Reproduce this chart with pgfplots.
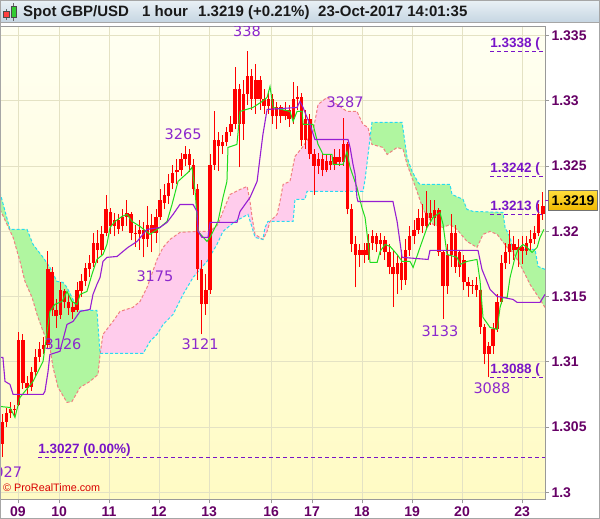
\documentclass[border=0pt]{standalone}
\usepackage{fontspec}
\setmainfont{Liberation Sans}
\newfontfamily\djv{DejaVu Sans}
\usepackage{pgfplots}
\usepackage{pgfplotstable}
\pgfplotsset{compat=1.18}

\definecolor{candle}{RGB}{255,0,0}
\definecolor{bgtop}{RGB}{255,255,242}
\definecolor{bgbot}{RGB}{255,251,196}
\definecolor{gridc}{RGB}{228,226,196}
\definecolor{cloudgreen}{RGB}{176,246,160}
\definecolor{cloudpink}{RGB}{255,204,236}
\definecolor{spanAc}{RGB}{240,128,128}
\definecolor{spanBc}{RGB}{40,220,240}
\definecolor{tenkan}{RGB}{30,220,30}
\definecolor{kijun}{RGB}{150,30,210}
\definecolor{ticklab}{RGB}{102,0,102}
\definecolor{annot}{RGB}{140,40,205}
\definecolor{levelc}{RGB}{120,20,200}
\definecolor{titletop}{RGB}{234,241,246}
\definecolor{titlebot}{RGB}{198,214,226}
\definecolor{boxtop}{RGB}{255,222,60}
\definecolor{boxbot}{RGB}{240,184,0}

% two-hour candles: k -> hour 2k+1
\pgfplotstableread{
k o h l c
0 1.3037 1.3060 1.3027 1.3054
1 1.3054 1.3065 1.3050 1.3061
2 1.3061 1.3069 1.3057 1.3064
3 1.3064 1.3067 1.3058 1.3063
4 1.3067 1.3123 1.3066 1.3117
5 1.3117 1.3121 1.3079 1.3084
6 1.3084 1.3089 1.3075 1.3080
7 1.3081 1.3096 1.3078 1.3092
8 1.3092 1.3110 1.3089 1.3104
9 1.3104 1.3115 1.3100 1.3110
10 1.3110 1.3119 1.3106 1.3113
11 1.3113 1.3185 1.3110 1.3171
12 1.3169 1.3173 1.3135 1.3140
13 1.3140 1.3148 1.3126 1.3135
14 1.3136 1.3161 1.3133 1.3155
15 1.3154 1.3156 1.3141 1.3146
16 1.3146 1.3152 1.3136 1.3141
17 1.3142 1.3146 1.3133 1.3138
18 1.3140 1.3161 1.3138 1.3155
19 1.3154 1.3167 1.3150 1.3162
20 1.3162 1.3176 1.3158 1.3172
21 1.3171 1.3182 1.3165 1.3176
22 1.3176 1.3199 1.3173 1.3191
23 1.3191 1.3201 1.3176 1.3186
24 1.3186 1.3204 1.3182 1.3198
25 1.3199 1.3228 1.3196 1.3217
26 1.3215 1.3218 1.3198 1.3204
27 1.3204 1.3214 1.3196 1.3209
28 1.3209 1.3213 1.3198 1.3202
29 1.3204 1.3217 1.3200 1.3211
30 1.3211 1.3224 1.3204 1.3214
31 1.3213 1.3215 1.3193 1.3199
32 1.3199 1.3205 1.3188 1.3198
33 1.3198 1.3209 1.3186 1.3201
34 1.3201 1.3207 1.3180 1.3194
35 1.3194 1.3219 1.3188 1.3205
36 1.3205 1.3213 1.3184 1.3199
37 1.3199 1.3217 1.3191 1.3211
38 1.3211 1.3232 1.3209 1.3224
39 1.3222 1.3236 1.3217 1.3228
40 1.3227 1.3244 1.3221 1.3237
41 1.3237 1.3251 1.3232 1.3245
42 1.3245 1.3255 1.3236 1.3247
43 1.3247 1.3260 1.3242 1.3255
44 1.3255 1.3265 1.3250 1.3259
45 1.3259 1.3263 1.3245 1.3251
46 1.3251 1.3255 1.3228 1.3232
47 1.3232 1.3236 1.3163 1.3171
48 1.3171 1.3178 1.3121 1.3144
49 1.3144 1.3167 1.3136 1.3155
50 1.3155 1.3259 1.3152 1.3251
51 1.3251 1.3292 1.3247 1.3270
52 1.3270 1.3276 1.3246 1.3265
53 1.3265 1.3274 1.3259 1.3268
54 1.3268 1.3280 1.3265 1.3276
55 1.3276 1.3288 1.3273 1.3282
56 1.3282 1.3326 1.3278 1.3309
57 1.3309 1.3313 1.3249 1.3282
58 1.3282 1.3316 1.3270 1.3305
59 1.3305 1.3338 1.3297 1.3319
60 1.3319 1.3324 1.3293 1.3301
61 1.3301 1.3328 1.3290 1.3316
62 1.3316 1.3319 1.3293 1.3301
63 1.3301 1.3309 1.3290 1.3296
64 1.3296 1.3306 1.3290 1.3301
65 1.3301 1.3305 1.3282 1.3288
66 1.3288 1.3299 1.3278 1.3295
67 1.3295 1.3297 1.3283 1.3288
68 1.3288 1.3299 1.3285 1.3293
69 1.3293 1.3297 1.3280 1.3286
70 1.3286 1.3314 1.3282 1.3301
71 1.3301 1.3311 1.3293 1.3303
72 1.3303 1.3306 1.3265 1.3270
73 1.3270 1.3293 1.3263 1.3286
74 1.3286 1.3290 1.3255 1.3259
75 1.3259 1.3263 1.3228 1.3250
76 1.3250 1.3260 1.3244 1.3255
77 1.3255 1.3259 1.3242 1.3247
78 1.3247 1.3259 1.3245 1.3254
79 1.3254 1.3259 1.3247 1.3251
80 1.3251 1.3263 1.3247 1.3257
81 1.3257 1.3263 1.3250 1.3253
82 1.3253 1.3287 1.3250 1.3267
83 1.3267 1.3268 1.3213 1.3217
84 1.3217 1.3221 1.3184 1.3190
85 1.3190 1.3196 1.3157 1.3182
86 1.3182 1.3190 1.3173 1.3186
87 1.3186 1.3191 1.3176 1.3182
88 1.3182 1.3198 1.3178 1.3191
89 1.3191 1.3201 1.3186 1.3196
90 1.3196 1.3199 1.3184 1.3190
91 1.3190 1.3199 1.3182 1.3193
92 1.3193 1.3196 1.3178 1.3184
93 1.3184 1.3190 1.3167 1.3173
94 1.3173 1.3186 1.3142 1.3167
95 1.3167 1.3182 1.3152 1.3176
96 1.3176 1.3186 1.3155 1.3163
97 1.3163 1.3194 1.3159 1.3186
98 1.3186 1.3204 1.3181 1.3196
99 1.3196 1.3209 1.3190 1.3201
100 1.3201 1.3217 1.3198 1.3210
101 1.3210 1.3221 1.3199 1.3204
102 1.3204 1.3231 1.3201 1.3214
103 1.3214 1.3224 1.3205 1.3210
104 1.3210 1.3224 1.3204 1.3216
105 1.3216 1.3218 1.3181 1.3184
106 1.3184 1.3186 1.3133 1.3158
107 1.3158 1.3190 1.3152 1.3182
108 1.3182 1.3213 1.3173 1.3199
109 1.3199 1.3205 1.3168 1.3173
110 1.3173 1.3186 1.3165 1.3184
111 1.3178 1.3182 1.3155 1.3161
112 1.3161 1.3165 1.3150 1.3158
113 1.3158 1.3163 1.3152 1.3159
114 1.3159 1.3165 1.3150 1.3155
115 1.3155 1.3158 1.3121 1.3127
116 1.3127 1.3129 1.3098 1.3106
117 1.3106 1.3115 1.3088 1.3112
118 1.3112 1.3130 1.3106 1.3125
119 1.3125 1.3152 1.3123 1.3146
120 1.3146 1.3182 1.3144 1.3176
121 1.3176 1.3191 1.3171 1.3184
122 1.3184 1.3201 1.3175 1.3190
123 1.3190 1.3196 1.3178 1.3186
124 1.3186 1.3194 1.3173 1.3188
125 1.3188 1.3196 1.3175 1.3185
126 1.3185 1.3196 1.3182 1.3191
127 1.3191 1.3201 1.3186 1.3194
128 1.3194 1.3204 1.3190 1.3199
129 1.3199 1.3221 1.3196 1.3213
130 1.3213 1.3230 1.3209 1.3219
}\candles

% leading span (salmon)
\pgfplotstableread{
t p
0 1.32167
6.3 1.31953
9.6 1.31769
12 1.31616
15.4 1.31493
17.8 1.31363
20.7 1.31233
24 1.3111
25.5 1.30957
27.9 1.30804
32.2 1.30689
34.6 1.30696
38.5 1.30804
43.3 1.3085
47.1 1.30903
48.1 1.31056
49.5 1.3121
54.3 1.31309
57.7 1.31386
63.9 1.31417
67.3 1.31462
70.7 1.3157
75.5 1.31784
78.4 1.31876
81.7 1.31937
86.5 1.31991
94.7 1.31999
101 1.31999
104.8 1.32052
107.2 1.32152
110.6 1.32282
115.4 1.3232
118.8 1.32343
120.2 1.32228
121.2 1.32106
122.6 1.31976
126.4 1.31937
128.4 1.31999
129.8 1.32075
133.2 1.32129
134.6 1.32228
136.1 1.32359
139.4 1.32382
141.8 1.32573
145.7 1.3265
150.5 1.32765
152.9 1.32971
157.2 1.33025
166.8 1.32918
171.6 1.32918
174.5 1.32818
176.9 1.32795
178.8 1.32665
184.1 1.32642
186.1 1.32588
190.9 1.32642
193.8 1.32627
195.7 1.32512
200.5 1.32305
203.4 1.32167
208.2 1.32052
213 1.32029
216.3 1.32052
219.7 1.32014
224.5 1.31922
229.3 1.31876
232.2 1.31976
235.6 1.31999
239 1.31976
243.8 1.31876
246.6 1.31838
250 1.31746
254.8 1.31593
259.6 1.31478
262 1.31417
}\spanA

% lagging span (cyan)
\pgfplotstableread{
t p
0 1.32297
4.8 1.32014
13 1.32014
15.9 1.31899
20.7 1.318
24 1.31723
27.4 1.31616
30.3 1.31608
32.2 1.3157
37 1.31417
38.5 1.31394
46.6 1.31394
48.1 1.31064
68.8 1.31064
72.1 1.31156
75.5 1.3121
78.4 1.31286
83.2 1.31363
88 1.31516
92.8 1.31646
99.5 1.31769
104.3 1.31899
107.2 1.31999
113 1.32075
119.2 1.32129
121.2 1.32029
122.6 1.31953
126.4 1.31937
127.4 1.32029
128.8 1.32075
140.9 1.32075
141.8 1.32244
146.6 1.32244
147.6 1.32305
174.5 1.32305
175.5 1.32397
178.8 1.32834
193.3 1.32834
195.7 1.32565
198.1 1.32458
201 1.32374
201.9 1.32359
216.3 1.32359
217.3 1.32282
222.6 1.32244
224.5 1.32167
227.4 1.32152
241.8 1.32144
242.8 1.32029
245.2 1.31953
246.6 1.31861
257.2 1.31861
258.7 1.3173
262 1.31708
}\spanB

% cloud where the lagging span is on top (first stretch)
\pgfplotstableread{
t p
0 1.32167
6.3 1.31953
9.6 1.31769
12 1.31616
15.4 1.31493
17.8 1.31363
20.7 1.31233
24 1.3111
25.5 1.30957
27.9 1.30804
32.2 1.30689
34.6 1.30696
38.5 1.30804
43.3 1.3085
47.1 1.30903
48.1 1.31056
48.1 1.31064
46.6 1.31394
38.5 1.31394
37 1.31417
32.2 1.3157
30.3 1.31608
27.4 1.31616
24 1.31723
20.7 1.318
15.9 1.31899
13 1.32014
4.8 1.32014
0 1.32297
}\cloudgreenA

% cloud where the leading span is on top
\pgfplotstableread{
t p
48.1 1.31056
49.5 1.3121
54.3 1.31309
57.7 1.31386
63.9 1.31417
67.3 1.31462
70.7 1.3157
75.5 1.31784
78.4 1.31876
81.7 1.31937
86.5 1.31991
94.7 1.31999
101 1.31999
104.8 1.32052
107.2 1.32152
110.6 1.32282
115.4 1.3232
118.8 1.32343
120.2 1.32228
121.2 1.32106
122.6 1.31976
126.4 1.31937
128.4 1.31999
129.8 1.32075
133.2 1.32129
134.6 1.32228
136.1 1.32359
139.4 1.32382
141.8 1.32573
145.7 1.3265
150.5 1.32765
152.9 1.32971
157.2 1.33025
166.8 1.32918
171.6 1.32918
174.5 1.32818
176.9 1.32795
178 1.3272
175.5 1.32397
174.5 1.32305
147.6 1.32305
146.6 1.32244
141.8 1.32244
140.9 1.32075
128.8 1.32075
127.4 1.32029
126.4 1.31937
122.6 1.31953
121.2 1.32029
119.2 1.32129
113 1.32075
107.2 1.31999
104.3 1.31899
99.5 1.31769
92.8 1.31646
88 1.31516
83.2 1.31363
78.4 1.31286
75.5 1.3121
72.1 1.31156
68.8 1.31064
48.1 1.31064
}\cloudpinkA

% cloud where the lagging span is on top (last stretch)
\pgfplotstableread{
t p
178 1.3272
178.8 1.32665
184.1 1.32642
186.1 1.32588
190.9 1.32642
193.8 1.32627
195.7 1.32512
200.5 1.32305
203.4 1.32167
208.2 1.32052
213 1.32029
216.3 1.32052
219.7 1.32014
224.5 1.31922
229.3 1.31876
232.2 1.31976
235.6 1.31999
239 1.31976
243.8 1.31876
246.6 1.31838
250 1.31746
254.8 1.31593
259.6 1.31478
262 1.31417
262 1.31708
258.7 1.3173
257.2 1.31861
246.6 1.31861
245.2 1.31953
242.8 1.32029
241.8 1.32144
227.4 1.32152
224.5 1.32167
222.6 1.32244
217.3 1.32282
216.3 1.32359
201.9 1.32359
201 1.32374
198.1 1.32458
195.7 1.32565
193.3 1.32834
178.8 1.32834
178 1.3272
}\cloudgreenB

% conversion line (green)
\pgfplotstableread{
t p
0 1.30658
4.8 1.3065
7.2 1.30574
9.6 1.30727
15.9 1.3085
20.7 1.31003
24 1.31386
26.4 1.3144
29.8 1.31462
32.2 1.31539
34.6 1.31462
37 1.3144
38.5 1.31516
41.8 1.31539
44.2 1.31669
46.6 1.31784
49.5 1.31822
51.4 1.31899
52.9 1.32029
55.3 1.32075
58.7 1.32114
61.1 1.32129
63.5 1.32075
67.3 1.32037
72.1 1.31976
76.9 1.32029
80.3 1.32075
82.7 1.32205
85.6 1.32382
90.4 1.32451
92.3 1.32489
93.8 1.32305
95.2 1.31999
99.5 1.31922
101 1.31953
104.8 1.32075
107.2 1.32259
109.1 1.32382
109.6 1.32642
113.9 1.32665
115.4 1.32918
121.6 1.32948
126 1.32994
128.4 1.33025
129.8 1.33109
131.3 1.32948
139.4 1.32918
140.9 1.32841
142.8 1.32918
145.2 1.32918
145.7 1.32818
150.5 1.32818
152.9 1.32665
155.3 1.32588
159.6 1.32588
160.1 1.32512
164.9 1.32512
166.8 1.32611
168.3 1.32489
171.6 1.32336
174 1.3218
175.5 1.32106
176.9 1.31922
177.9 1.31761
181.3 1.31761
182.7 1.31845
185.1 1.31899
187.5 1.31884
190.9 1.31822
193.3 1.31769
197.1 1.31769
198.6 1.31723
201.9 1.31876
205.3 1.32029
208.2 1.32106
211.5 1.32144
213 1.32052
214.9 1.31822
219.7 1.318
221.2 1.31746
224.5 1.31769
229.3 1.31784
230.8 1.31616
232.2 1.3134
235.6 1.31263
239 1.31248
240.4 1.31417
241.8 1.31493
243.8 1.31493
245.2 1.31646
247.6 1.318
249 1.31861
251.4 1.31899
253.4 1.31876
255.8 1.31838
258.2 1.31876
259.6 1.31953
261.5 1.32014
}\tenkan

% base line (purple)
\pgfplotstableread{
t p
0 1.31034
1.4 1.31034
2.4 1.3085
4.8 1.30827
6.3 1.3075
20.7 1.3075
21.6 1.30773
23.1 1.30926
24 1.31056
28.8 1.3108
32.2 1.31286
35.1 1.31309
38.5 1.31386
43.3 1.31401
44.7 1.31516
46.6 1.31593
48.1 1.31646
49.5 1.31769
51.4 1.318
56.3 1.31807
59.1 1.31845
61.5 1.31876
65.9 1.31922
70.7 1.32014
76.9 1.32029
80.3 1.32068
83.2 1.32129
86.5 1.32205
92.8 1.32205
94.7 1.32152
95.2 1.31999
97.1 1.31953
100 1.31953
101 1.32068
113.9 1.32068
115.4 1.32152
120.2 1.32259
123.6 1.32382
125 1.32565
126.4 1.32742
128.4 1.32933
142.8 1.32948
144.2 1.32994
145.7 1.32948
147.6 1.32872
149 1.32818
151.4 1.32703
167.3 1.32703
168.3 1.32642
169.7 1.32512
170.7 1.32435
171.6 1.32259
172.1 1.32228
188.9 1.32228
190.9 1.32075
193.3 1.318
205.8 1.31784
206.7 1.31853
229.8 1.31853
231.7 1.31708
235.6 1.31554
239 1.31501
246.6 1.31478
248.6 1.31455
259.6 1.31455
262 1.31516
}\kijun

\begin{document}
\begin{tikzpicture}[x=1pt,y=1pt]
\fill[white] (0,0) rectangle (600,519);

\begin{axis}[
  at={(0,15)}, anchor=south west,
  scale only axis, width=545pt, height=473pt,
  xmin=0, xmax=262, ymin=1.29946, ymax=1.33569,
  axis background/.style={shade, top color=bgtop, bottom color=bgbot},
  axis line style={draw=black!40, line width=0.8pt},
  grid=major, grid style={draw=gridc, line width=0.7pt},
  xtick={8.65,28.4,52.4,76.4,100.5,130.3,150,174,198.1,222.1,251},
  xticklabels={09,10,11,12,13,16,17,18,19,20,23},
  ytick={1.3,1.305,1.31,1.315,1.32,1.325,1.33,1.335},
  yticklabels={1.3,1.305,1.31,1.315,1.32,1.325,1.33,1.335},
  xtick pos=bottom, ytick pos=right, yticklabel pos=right,
  tick align=outside, major tick length=4pt,
  tick style={draw=black!40, line width=0.8pt},
  yticklabel style={font=\fontsize{14}{16}\selectfont\bfseries, text=ticklab, anchor=west, xshift=-1pt},
  xticklabel style={font=\fontsize{14}{16}\selectfont\bfseries, text=ticklab},
]

% cloud fill
\addplot[fill=cloudgreen, draw=none] table[x=t,y=p]{\cloudgreenA};
\addplot[fill=cloudpink, draw=none] table[x=t,y=p]{\cloudpinkA};
\addplot[fill=cloudgreen, draw=none] table[x=t,y=p]{\cloudgreenB};

% cloud boundaries
\addplot[draw=spanAc, line width=1pt, dash pattern=on 3pt off 2pt] table[x=t,y=p]{\spanA};
\addplot[draw=spanBc, line width=1pt, dash pattern=on 3pt off 2pt] table[x=t,y=p]{\spanB};

% level lines
\addplot[draw=levelc, line width=0.9pt, dash pattern=on 4pt off 3pt] coordinates {(235.6,1.3338) (262,1.3338)};
\addplot[draw=levelc, line width=0.9pt, dash pattern=on 4pt off 3pt] coordinates {(235.6,1.3242) (262,1.3242)};
\addplot[draw=levelc, line width=0.9pt, dash pattern=on 4pt off 3pt] coordinates {(235.6,1.3213) (262,1.3213)};
\addplot[draw=levelc, line width=0.9pt, dash pattern=on 4pt off 3pt] coordinates {(235.6,1.3088) (262,1.3088)};
\addplot[draw=levelc, line width=0.9pt, dash pattern=on 4pt off 3pt] coordinates {(18.3,1.3027) (262,1.3027)};

% candles: wicks, then bodies
\addplot[draw=none, mark=none,
  error bars/.cd, y dir=plus, y explicit, error mark=none,
  error bar style={draw=candle, line width=0.9pt}]
  table[x expr={2*\thisrow{k}+1}, y=l, y error plus expr={\thisrow{h}-\thisrow{l}}]{\candles};
\addplot[draw=none, mark=none,
  error bars/.cd, y dir=plus, y explicit, error mark=none,
  error bar style={draw=candle, line width=3.4pt}]
  table[x expr={2*\thisrow{k}+1}, y expr={min(\thisrow{o},\thisrow{c})},
        y error plus expr={max(abs(\thisrow{c}-\thisrow{o}),0.00008)}]{\candles};

% conversion and base lines
\addplot[draw=tenkan, line width=1pt] table[x=t,y=p]{\tenkan};
\addplot[draw=kijun, line width=1.1pt] table[x=t,y=p]{\kijun};

% extreme annotations
\begin{scope}[every node/.style={text=annot, font=\djv\fontsize{14.5}{16}\selectfont, inner sep=0pt}]
\node at (axis cs:118.7,1.33535) {338};
\node at (axis cs:88,1.32742) {3265};
\node at (axis cs:74.5,1.31654) {3175};
\node at (axis cs:96.2,1.31133) {3121};
\node at (axis cs:30.3,1.31133) {3126};
\node at (axis cs:165.9,1.32987) {3287};
\node at (axis cs:211.5,1.31233) {3133};
\node at (axis cs:236.5,1.30796) {3088};
\node at (axis cs:1.7,1.30155) {3027};
\end{scope}

% level labels
\begin{scope}[every node/.style={text=levelc, font=\fontsize{13.5}{15}\selectfont\bfseries, inner sep=0pt, anchor=base west}]
\node at ([yshift=4pt]axis cs:235.6,1.3338) {1.3338 (};
\node at ([yshift=4pt]axis cs:235.6,1.3242) {1.3242 (};
\node at ([yshift=4pt]axis cs:235.6,1.3213) {1.3213 (};
\node at ([yshift=4pt]axis cs:235.6,1.3088) {1.3088 (};
\node at ([yshift=4pt]axis cs:18.3,1.3027) {1.3027 (0.00\%)};
\end{scope}
\end{axis}

% copyright
\node[anchor=west, text=candle!85!black, font=\fontsize{10.8}{12}\selectfont, inner sep=0pt] at (3,31) {\textcopyright{} ProRealTime.com};

% current price marker on the price scale
\draw[kijun, line width=1pt] (545,318.5) -- (549,318.5);
\shade[top color=boxtop, bottom color=boxbot, draw=black!55, line width=0.7pt] (548.5,308.5) rectangle (597.5,328.5);
\node[font=\fontsize{14}{16}\selectfont\bfseries, inner sep=0pt] at (573,318.5) {1.3219};

% title bar
\shade[top color=titletop, bottom color=titlebot] (0,497) rectangle (600,519);
\draw[black!35, line width=0.8pt] (0,497) -- (600,497);
\draw[black!60, line width=0.6pt] (6.3,499) -- (6.3,510);
\fill[red!75, draw=black!70, line width=0.5pt] (3.5,501.5) rectangle (9,507.5);
\draw[black!60, line width=0.6pt] (13.7,498) -- (13.7,516);
\fill[green!75!black!80, draw=black!70, line width=0.5pt] (11,501.5) rectangle (16.5,512.5);
\begin{scope}[every node/.style={anchor=base west, inner sep=0pt, font=\fontsize{15}{17}\selectfont\bfseries, text=black!90}]
\node at (23,502) {Spot GBP/USD};
\node at (142,502) {1 hour};
\node at (198,502) {1.3219 (+0.21\%)};
\node at (318,502) {23-Oct-2017 14:01:35};
\end{scope}

% outer frame
\draw[black!35, line width=1pt] (0.5,0.5) rectangle (599.5,518.5);

\pgfresetboundingbox
\useasboundingbox (0,0) rectangle (600,519);
\end{tikzpicture}
\end{document}
